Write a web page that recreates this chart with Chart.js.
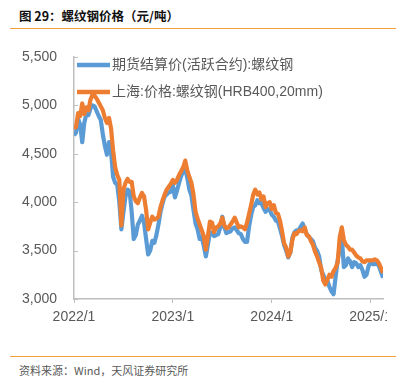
<!DOCTYPE html>
<html>
<head>
<meta charset="utf-8">
<script src="https://cdn.jsdelivr.net/npm/chart.js@4.4.1/dist/chart.umd.min.js"></script>
<style>
  html, body { margin:0; padding:0; background:#fff; }
  body { width:414px; height:382px; position:relative; overflow:hidden; }
  #title { position:absolute; left:19px; top:8px; font-family:"Noto Sans CJK SC", sans-serif; font-weight:bold; font-size:12.5px; color:#111; white-space:nowrap; line-height:16px; }
  #tline { position:absolute; left:10px; top:28px; width:386px; height:1.2px; background:#F5A03C; }
  #bline { position:absolute; left:10px; top:355.5px; width:386px; height:1.2px; background:#F5A03C; }
  #source { position:absolute; left:19px; top:363px; font-family:"Noto Sans CJK SC", sans-serif; font-size:11px; color:#595959; white-space:nowrap; line-height:15px; }
  #clip { position:absolute; left:0; top:0; width:387px; height:340px; overflow:hidden; }
  #wrap { position:absolute; left:0; top:0; width:414px; height:340px; }
</style>
</head>
<body>
<div id="title">图 29：螺纹钢价格（元/吨）</div>
<div id="tline"></div>
<div id="clip"><div id="wrap"><canvas id="c"></canvas></div></div>
<div id="bline"></div>
<div id="source">资料来源：Wind，天风证券研究所</div>
<script>
// Weekly samples starting 2022/1 (step = 0.25 month)
const startMonth = 0;
const stepMonths = 0.25;
const seriesNames = ['期货结算价(活跃合约):螺纹钢', '上海:价格:螺纹钢(HRB400,20mm)'];
const futures = [4690,4720,4860,4800,4620,4820,4910,4900,4970,5000,
  4990,4940,4890,4850,4700,4580,4490,4620,4520,4260,
  4200,4180,4000,3720,3900,4060,4130,4110,3900,3620,
  3660,3770,3810,3860,3790,3620,3460,3500,3600,3580,
  3660,3770,3900,3990,4060,4080,4100,4110,4170,4050,
  4120,4200,4270,4320,4350,4250,4130,4070,3920,3780,
  3720,3620,3640,3550,3440,3560,3690,3680,3650,3660,
  3670,3740,3850,3740,3680,3690,3700,3730,3740,3710,
  3680,3670,3620,3590,3590,3750,3870,3950,3970,4020,
  3990,3990,3940,3900,3930,3920,3870,3850,3810,3800,
  3730,3650,3555,3500,3430,3480,3630,3690,3710,3710,
  3745,3780,3720,3670,3640,3620,3595,3530,3500,3440,
  3300,3250,3200,3190,3125,3080,3050,3230,3400,3520,
  3640,3330,3350,3420,3390,3330,3380,3370,3330,3350,
  3300,3230,3250,3340,3380,3360,3360,3370,3340,3280,3220];
const spot = [4760,4780,4920,4890,5020,4910,4980,4950,5060,5110,
  5100,5070,5030,4990,4950,4870,4820,4870,4760,4530,
  4360,4280,4230,3760,4130,4200,4240,4210,4210,4060,
  4010,3990,4050,4095,4060,3920,3720,3790,3850,3820,
  3830,3850,3950,4020,4080,4130,4160,4190,4230,4200,
  4230,4280,4320,4360,4430,4330,4260,4200,4080,3900,
  3830,3770,3710,3650,3510,3650,3800,3790,3690,3740,
  3750,3780,3840,3760,3730,3740,3770,3800,3840,3790,
  3740,3750,3740,3720,3790,3880,3970,4080,4130,4080,
  4100,4030,4060,3950,3990,4000,3930,3970,3890,3880,
  3810,3700,3575,3530,3440,3480,3610,3680,3670,3700,
  3710,3700,3740,3660,3650,3600,3560,3490,3440,3380,
  3320,3190,3150,3200,3250,3230,3290,3320,3380,3640,
  3740,3610,3560,3540,3510,3510,3480,3450,3430,3420,
  3390,3380,3400,3400,3400,3400,3410,3400,3370,3320,3270];
const xTickMonths = [0, 12, 24, 36];
const xTickLabels = ['2022/1', '2023/1', '2024/1', '2025/1'];
const yTicks = [3000, 3500, 4000, 4500, 5000, 5500];

const colors = ['#5B9BD5', '#ED7D31'];
const toPts = arr => arr.map((v, i) => ({ x: startMonth + i * stepMonths, y: v }));
const axisColor = '#BFBFBF';
const textColor = '#595959';
const latinFont = '"Liberation Sans", "Noto Sans CJK SC", sans-serif';

const legendPlugin = {
  id: 'customLegend',
  afterDatasetsDraw(chart) {
    const ctx = chart.ctx;
    const rows = [65, 92];
    ctx.save();
    seriesNames.forEach((name, i) => {
      ctx.strokeStyle = colors[i];
      ctx.lineWidth = 4.5;
      ctx.beginPath();
      ctx.moveTo(77, rows[i]);
      ctx.lineTo(110, rows[i]);
      ctx.stroke();
      ctx.fillStyle = textColor;
      ctx.font = '14px ' + latinFont;
      ctx.textBaseline = 'middle';
      ctx.textAlign = 'left';
      ctx.fillText(name, 112, rows[i]);
    });
    ctx.restore();
  }
};
const innerTicks = {
  id: 'innerTicks',
  afterDraw(chart) {
    const y = chart.scales.y, ctx = chart.ctx;
    ctx.save();
    ctx.strokeStyle = axisColor;
    ctx.lineWidth = 1;
    yTicks.forEach(v => {
      const py = Math.round(y.getPixelForValue(v)) + 0.5;
      ctx.beginPath();
      ctx.moveTo(chart.chartArea.left, py);
      ctx.lineTo(chart.chartArea.left + 4, py);
      ctx.stroke();
    });
    ctx.restore();
  }
};

new Chart(document.getElementById('c'), {
  type: 'line',
  data: {
    datasets: [
      { label: seriesNames[0], data: toPts(futures), borderColor: colors[0], backgroundColor: colors[0], borderWidth: 4.2, pointRadius: 0, tension: 0, order: 1, borderJoinStyle: 'round' },
      { label: seriesNames[1], data: toPts(spot), borderColor: colors[1], backgroundColor: colors[1], borderWidth: 4.2, pointRadius: 0, tension: 0, order: 0, borderJoinStyle: 'round' }
    ]
  },
  options: {
    responsive: true,
    maintainAspectRatio: false,
    animation: false,
    layout: { padding: { top: 57, right: 31, left: 0, bottom: 0 } },
    plugins: { legend: { display: false }, tooltip: { enabled: false } },
    scales: {
      x: {
        type: 'linear',
        min: 0,
        max: startMonth + (spot.length - 1) * stepMonths,
        afterBuildTicks: s => { s.ticks = xTickMonths.map(v => ({ value: v })); },
        afterFit: s => { s.height = 41; },
        ticks: {
          autoSkip: false, maxRotation: 0, padding: 6, color: textColor,
          font: { family: latinFont, size: 14 },
          callback: v => { const i = xTickMonths.indexOf(v); return i >= 0 ? xTickLabels[i] : null; }
        },
        grid: { drawOnChartArea: false, drawTicks: true, tickLength: 4, color: axisColor, lineWidth: 1 },
        border: { color: axisColor, width: 1.5 }
      },
      y: {
        min: yTicks[0],
        max: yTicks[yTicks.length - 1],
        afterBuildTicks: s => { s.ticks = yTicks.map(v => ({ value: v })); },
        afterFit: s => { s.width = 74; },
        ticks: {
          padding: 17, color: textColor,
          font: { family: latinFont, size: 14 },
          callback: v => v.toLocaleString('en-US')
        },
        grid: { drawOnChartArea: false, drawTicks: false, color: axisColor },
        border: { color: axisColor, width: 1.5 }
      }
    }
  },
  plugins: [legendPlugin, innerTicks]
});
</script>
</body>
</html>
